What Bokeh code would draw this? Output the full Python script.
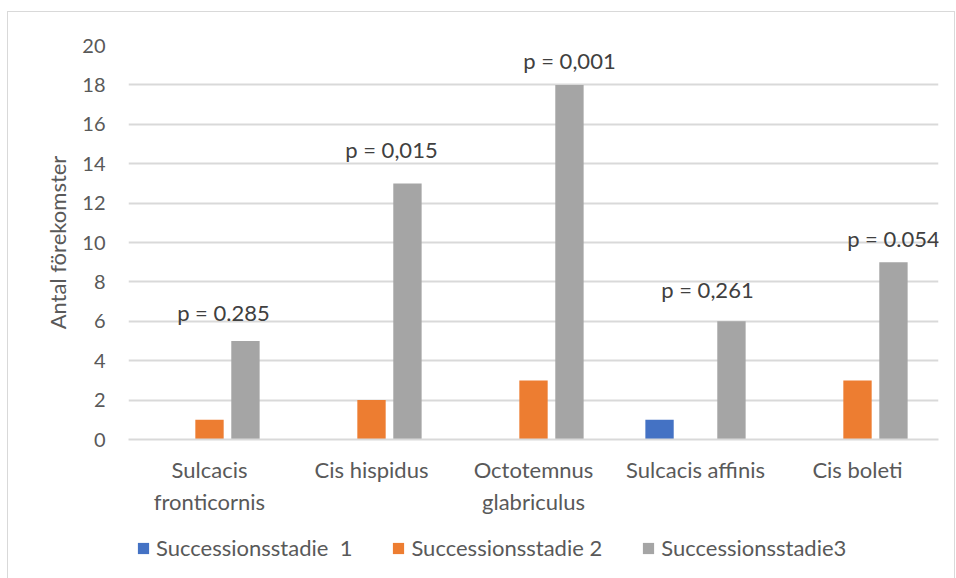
from bokeh.plotting import figure
from bokeh.layouts import column
from bokeh.models import (ColumnDataSource, FactorRange, Range1d, Legend, LegendItem,
                          LabelSet)
from bokeh.core.properties import value
from bokeh.transform import dodge
from bokeh.embed import file_html
from bokeh.resources import INLINE

# Species (categories) and occurrence counts per succession stage
species = ["Sulcacis\nfronticornis", "Cis hispidus", "Octotemnus\nglabriculus",
           "Sulcacis affinis", "Cis boleti"]
stage1 = [0, 0, 0, 1, 0]
stage2 = [1, 2, 3, 0, 3]
stage3 = [5, 13, 18, 6, 9]
p_values = ["p = 0.285", "p = 0,015", "p = 0,001", "p = 0,261", "p = 0.054"]
series_names = ["Successionsstadie  1", "Successionsstadie 2", "Successionsstadie3"]
y_ticks = [0, 2, 4, 6, 8, 10, 12, 14, 16, 18, 20]

# hand placement of the p-value notes relative to the stage-3 bar top (px)
note_dx = [-22, -16, 0, -24, 0]
note_dy = [20, 25, 16, 23, 15]

FONT = "Lato"
TEXT = "#595959"
GRID = "#d9d9d9"
COLORS = ["#4472C4", "#ED7D31", "#A5A5A5"]

src = ColumnDataSource(dict(sp=species, s1=stage1, s2=stage2, s3=stage3, pv=p_values,
                            dx=note_dx, dy=note_dy))

p = figure(x_range=FactorRange(*species), y_range=Range1d(0, 20),
           width=946, height=520, output_backend="svg", toolbar_location=None,
           min_border_left=120, min_border_right=16, min_border_top=33,
           min_border_bottom=93)
p.outline_line_color = None
p.background_fill_color = "white"
p.border_fill_color = "white"

offsets = [-0.222, 0.0, 0.222]
for col, off, color in zip(["s1", "s2", "s3"], offsets, COLORS):
    p.vbar(x=dodge("sp", off, range=p.x_range), top=col, width=0.175,
           source=src, fill_color=color, line_color=None)

# p-value notes above the stage-3 bars
labels = LabelSet(x=dodge("sp", 0.222, range=p.x_range), y="s3", text="pv",
                  source=src, x_offset="dx", y_offset="dy", text_align="center",
                  text_baseline="alphabetic", text_font=value(FONT),
                  text_font_size=value("22px"), text_color="#404040")
p.add_layout(labels)

# Axes
p.yaxis.ticker = y_ticks
p.yaxis.axis_line_color = None
p.yaxis.major_tick_line_color = None
p.yaxis.minor_tick_line_color = None
p.yaxis.major_label_text_font = FONT
p.yaxis.major_label_text_font_size = "20px"
p.yaxis.major_label_text_color = TEXT
p.yaxis.major_label_standoff = 17
p.yaxis.axis_label = "Antal förekomster"
p.yaxis.axis_label_text_font = FONT
p.yaxis.axis_label_text_font_style = "normal"
p.yaxis.axis_label_text_font_size = "22px"
p.yaxis.axis_label_text_color = TEXT
p.yaxis.axis_label_standoff = 8

p.xaxis.axis_line_color = GRID
p.xaxis.axis_line_width = 2
p.xaxis.major_tick_line_color = None
p.xaxis.minor_tick_line_color = None
p.xaxis.major_label_text_font = FONT
p.xaxis.major_label_text_font_size = "22px"
p.xaxis.major_label_text_color = TEXT
p.xaxis.major_label_standoff = 10

p.xgrid.grid_line_color = None
p.ygrid.grid_line_color = GRID
p.ygrid.grid_line_width = 2

# Legend strip under the chart (its frame lines up with the chart's frame)
lg = figure(width=946, height=47, output_backend="svg", toolbar_location=None,
            x_axis_location=None, y_axis_location=None,
            x_range=Range1d(0, 1), y_range=Range1d(0, 1), min_border=0)
lg.outline_line_color = None
lg.background_fill_color = "white"
lg.border_fill_color = "white"
lg.xgrid.visible = False
lg.ygrid.visible = False
# zero-size swatch renderers: only their legend glyphs are drawn
swatches = [lg.vbar(x=[0.5], top=[0], bottom=[0], width=0, fill_color=c,
                    line_color=None) for c in COLORS]
legend = Legend(items=[LegendItem(label=n, renderers=[r]) for n, r in zip(series_names, swatches)],
                orientation="horizontal", location=(8, 18),
                label_text_font=FONT, label_text_font_size="22px",
                label_text_color=TEXT, glyph_width=14, glyph_height=14,
                label_standoff=6, spacing=39, border_line_color=None,
                background_fill_alpha=0, margin=0, padding=0)
lg.add_layout(legend)

layout = column(p, lg, spacing=0)
# thin light frame around the whole chart
layout.styles = {"margin-left": "7px", "margin-top": "11px",
                 "border": "1px solid #d9d9d9"}

open("out.html", "w").write(file_html(layout, INLINE))
